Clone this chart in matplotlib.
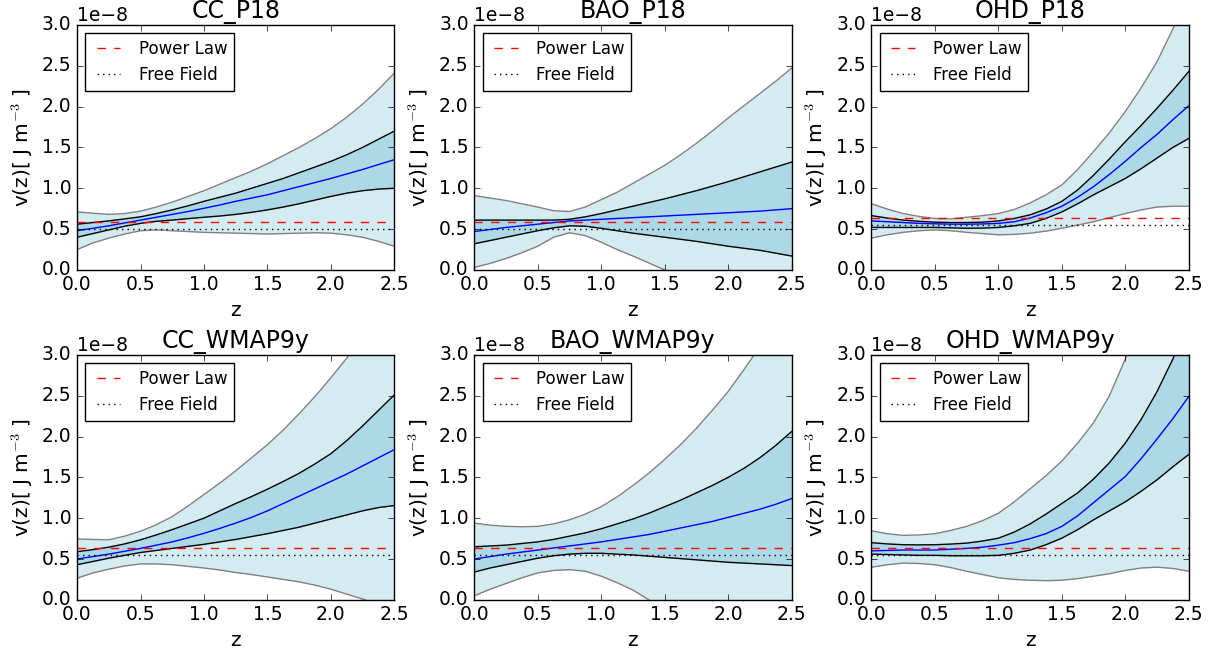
import numpy as np
import matplotlib
matplotlib.use("Agg")
import matplotlib.pyplot as plt

plt.style.use("classic")

# redshift grid the curves were read at
z = [0.0, 0.125, 0.25, 0.375, 0.5, 0.625, 0.75, 0.875, 1.0, 1.125, 1.25,
     1.375, 1.5, 1.625, 1.75, 1.875, 2.0, 2.125, 2.25, 2.375, 2.5]

titles = ["CC_P18", "BAO_P18", "OHD_P18", "CC_WMAP9y", "BAO_WMAP9y", "OHD_WMAP9y"]

# values in units of 1e-8 J m^-3
# 2-sigma upper / 1-sigma upper / mean / 1-sigma lower / 2-sigma lower
cc_p18_up2 = [0.71, 0.695, 0.68, 0.69, 0.72, 0.77, 0.83, 0.90, 0.97, 1.05, 1.13,
              1.21, 1.30, 1.40, 1.50, 1.61, 1.73, 1.87, 2.03, 2.21, 2.41]
cc_p18_up1 = [0.56, 0.58, 0.60, 0.625, 0.65, 0.69, 0.735, 0.785, 0.84, 0.89, 0.94,
              1.00, 1.06, 1.12, 1.19, 1.26, 1.33, 1.41, 1.50, 1.60, 1.70]
cc_p18_mean = [0.48, 0.51, 0.54, 0.575, 0.61, 0.645, 0.68, 0.715, 0.755, 0.795, 0.84,
               0.88, 0.92, 0.97, 1.02, 1.07, 1.12, 1.175, 1.23, 1.29, 1.35]
cc_p18_lo1 = [0.40, 0.445, 0.49, 0.535, 0.57, 0.595, 0.61, 0.628, 0.645, 0.66, 0.68,
              0.705, 0.735, 0.77, 0.81, 0.855, 0.90, 0.94, 0.97, 0.99, 1.00]
cc_p18_lo2 = [0.25, 0.33, 0.39, 0.44, 0.48, 0.49, 0.48, 0.47, 0.46, 0.455, 0.45,
              0.445, 0.44, 0.445, 0.45, 0.455, 0.45, 0.43, 0.40, 0.35, 0.29]

bao_p18_up2 = [0.91, 0.88, 0.85, 0.81, 0.77, 0.725, 0.715, 0.77, 0.86, 0.95, 1.06,
               1.17, 1.28, 1.41, 1.55, 1.70, 1.86, 2.01, 2.16, 2.31, 2.47]
bao_p18_up1 = [0.61, 0.61, 0.61, 0.61, 0.61, 0.61, 0.62, 0.65, 0.69, 0.735, 0.78,
               0.825, 0.87, 0.92, 0.97, 1.025, 1.08, 1.14, 1.20, 1.26, 1.32]
bao_p18_mean = [0.47, 0.495, 0.52, 0.54, 0.56, 0.58, 0.60, 0.61, 0.62, 0.63, 0.64,
                0.65, 0.66, 0.67, 0.68, 0.69, 0.70, 0.71, 0.72, 0.735, 0.75]
bao_p18_lo1 = [0.32, 0.36, 0.40, 0.44, 0.48, 0.515, 0.54, 0.535, 0.51, 0.48, 0.45,
               0.425, 0.40, 0.375, 0.35, 0.32, 0.29, 0.265, 0.24, 0.205, 0.17]
bao_p18_lo2 = [0.03, 0.08, 0.14, 0.21, 0.29, 0.40, 0.455, 0.42, 0.34, 0.25, 0.17,
               0.085, 0.0, -0.08, -0.17, -0.26, -0.35, -0.45, -0.55, -0.65, -0.75]

ohd_p18_up2 = [0.81, 0.745, 0.69, 0.655, 0.63, 0.625, 0.645, 0.665, 0.69, 0.74, 0.82,
               0.92, 1.04, 1.23, 1.45, 1.68, 1.94, 2.23, 2.55, 2.95, 3.4]
ohd_p18_up1 = [0.665, 0.635, 0.61, 0.595, 0.585, 0.58, 0.58, 0.585, 0.60, 0.63, 0.675,
               0.745, 0.84, 0.98, 1.16, 1.36, 1.57, 1.77, 1.98, 2.20, 2.43]
ohd_p18_mean = [0.60, 0.59, 0.58, 0.57, 0.565, 0.56, 0.56, 0.563, 0.57, 0.59, 0.635,
                0.70, 0.78, 0.89, 1.02, 1.17, 1.33, 1.50, 1.66, 1.84, 2.01]
ohd_p18_lo1 = [0.52, 0.52, 0.52, 0.52, 0.52, 0.515, 0.51, 0.512, 0.52, 0.54, 0.57,
               0.63, 0.71, 0.81, 0.92, 1.02, 1.12, 1.24, 1.37, 1.50, 1.61]
ohd_p18_lo2 = [0.39, 0.43, 0.46, 0.48, 0.49, 0.48, 0.46, 0.445, 0.43, 0.435, 0.45,
               0.475, 0.51, 0.55, 0.59, 0.64, 0.69, 0.735, 0.77, 0.78, 0.78]

cc_wmap_up2 = [0.745, 0.74, 0.735, 0.78, 0.84, 0.92, 1.02, 1.15, 1.29, 1.43, 1.58,
               1.74, 1.90, 2.08, 2.28, 2.49, 2.72, 2.96, 3.22, 3.5, 3.8]
cc_wmap_up1 = [0.59, 0.615, 0.645, 0.685, 0.735, 0.795, 0.86, 0.93, 1.0, 1.09, 1.18,
               1.265, 1.355, 1.45, 1.55, 1.665, 1.79, 1.95, 2.13, 2.32, 2.51]
cc_wmap_mean = [0.50, 0.53, 0.56, 0.595, 0.63, 0.67, 0.71, 0.76, 0.815, 0.875, 0.94,
                1.01, 1.09, 1.18, 1.27, 1.36, 1.45, 1.54, 1.64, 1.74, 1.84]
cc_wmap_lo1 = [0.43, 0.47, 0.51, 0.545, 0.58, 0.605, 0.63, 0.655, 0.68, 0.71, 0.74,
               0.775, 0.81, 0.85, 0.89, 0.94, 0.99, 1.04, 1.09, 1.13, 1.155]
cc_wmap_lo2 = [0.265, 0.33, 0.375, 0.415, 0.44, 0.44, 0.43, 0.41, 0.39, 0.365, 0.335,
               0.31, 0.28, 0.25, 0.22, 0.18, 0.13, 0.07, 0.01, -0.06, -0.13]

bao_wmap_up2 = [0.94, 0.915, 0.90, 0.895, 0.90, 0.93, 0.98, 1.05, 1.14, 1.26, 1.40,
                1.55, 1.72, 1.90, 2.10, 2.32, 2.55, 2.82, 3.1, 3.4, 3.7]
bao_wmap_up1 = [0.65, 0.66, 0.67, 0.69, 0.71, 0.74, 0.78, 0.82, 0.87, 0.93, 0.99,
                1.06, 1.14, 1.22, 1.31, 1.40, 1.50, 1.61, 1.74, 1.89, 2.06]
bao_wmap_mean = [0.50, 0.53, 0.56, 0.585, 0.61, 0.635, 0.66, 0.685, 0.71, 0.74, 0.77,
                 0.80, 0.84, 0.88, 0.92, 0.96, 1.01, 1.06, 1.11, 1.17, 1.24]
bao_wmap_lo1 = [0.34, 0.39, 0.43, 0.47, 0.51, 0.54, 0.56, 0.57, 0.57, 0.56, 0.55,
                0.535, 0.52, 0.505, 0.49, 0.475, 0.46, 0.45, 0.44, 0.43, 0.42]
bao_wmap_lo2 = [0.05, 0.13, 0.20, 0.27, 0.33, 0.36, 0.37, 0.35, 0.29, 0.21, 0.12,
                0.0, -0.15, -0.3, -0.45, -0.6, -0.75, -0.92, -1.1, -1.3, -1.5]

ohd_wmap_up2 = [0.845, 0.81, 0.79, 0.795, 0.81, 0.85, 0.90, 0.97, 1.06, 1.20, 1.36,
                1.52, 1.70, 1.92, 2.17, 2.50, 2.95, 3.4, 3.9, 4.4, 5.0]
ohd_wmap_up1 = [0.70, 0.685, 0.675, 0.673, 0.675, 0.683, 0.695, 0.72, 0.755, 0.83, 0.93,
                1.05, 1.18, 1.31, 1.48, 1.68, 1.92, 2.21, 2.55, 2.95, 3.4]
ohd_wmap_mean = [0.60, 0.605, 0.61, 0.61, 0.61, 0.62, 0.63, 0.645, 0.67, 0.70, 0.75,
                 0.81, 0.90, 1.03, 1.19, 1.35, 1.51, 1.73, 1.97, 2.22, 2.49]
ohd_wmap_lo1 = [0.56, 0.555, 0.55, 0.545, 0.545, 0.54, 0.54, 0.54, 0.545, 0.57, 0.61,
                0.675, 0.755, 0.86, 0.98, 1.09, 1.20, 1.33, 1.47, 1.63, 1.78]
ohd_wmap_lo2 = [0.40, 0.43, 0.45, 0.445, 0.43, 0.395, 0.35, 0.31, 0.27, 0.25, 0.24,
                0.235, 0.24, 0.26, 0.29, 0.32, 0.36, 0.39, 0.40, 0.385, 0.35]

# constant reference models per panel
power_law = [0.59, 0.59, 0.64, 0.64, 0.64, 0.64]
free_field = [0.505, 0.505, 0.547, 0.547, 0.547, 0.547]

bands = [
    (cc_p18_up2, cc_p18_up1, cc_p18_mean, cc_p18_lo1, cc_p18_lo2),
    (bao_p18_up2, bao_p18_up1, bao_p18_mean, bao_p18_lo1, bao_p18_lo2),
    (ohd_p18_up2, ohd_p18_up1, ohd_p18_mean, ohd_p18_lo1, ohd_p18_lo2),
    (cc_wmap_up2, cc_wmap_up1, cc_wmap_mean, cc_wmap_lo1, cc_wmap_lo2),
    (bao_wmap_up2, bao_wmap_up1, bao_wmap_mean, bao_wmap_lo1, bao_wmap_lo2),
    (ohd_wmap_up2, ohd_wmap_up1, ohd_wmap_mean, ohd_wmap_lo1, ohd_wmap_lo2),
]

scale = 1e-8
zz = np.array(z)

fig, axes = plt.subplots(2, 3, figsize=(12.23, 6.57), dpi=100, facecolor="white")
fig.subplots_adjust(left=0.063, right=0.972, bottom=0.087, top=0.962,
                    wspace=0.252, hspace=0.347)

for i, ax in enumerate(axes.flatten()):
    up2, up1, mean, lo1, lo2 = [np.array(b) * scale for b in bands[i]]

    ax.fill_between(zz, lo2, up2, color="lightblue", alpha=0.5, lw=0)
    ax.fill_between(zz, lo1, up1, color="lightblue", lw=0)
    ax.plot(zz, up2, color="gray")
    ax.plot(zz, lo2, color="gray")
    ax.plot(zz, up1, color="black")
    ax.plot(zz, lo1, color="black")
    ax.plot(zz, mean, color="blue")

    ends = [z[0], z[-1]]
    ax.plot(ends, [power_law[i] * scale] * 2, "r--", label="Power Law")
    ax.plot(ends, [free_field[i] * scale] * 2, "k:", label="Free Field")

    ax.set_xlim(0, 2.5)
    ax.set_ylim(0, 3e-8)
    ax.set_title(titles[i], fontsize=17)
    ax.set_xlabel("z", fontsize=14.5)
    ax.set_ylabel(r"v(z)[ J m$^{-3}$ ]", fontsize=14.5)
    ax.tick_params(labelsize=13.5)
    ax.yaxis.get_offset_text().set_fontsize(13.5)
    ax.legend(loc="upper left", fontsize=12)

fig.savefig("out.png", dpi=100, facecolor="white")
